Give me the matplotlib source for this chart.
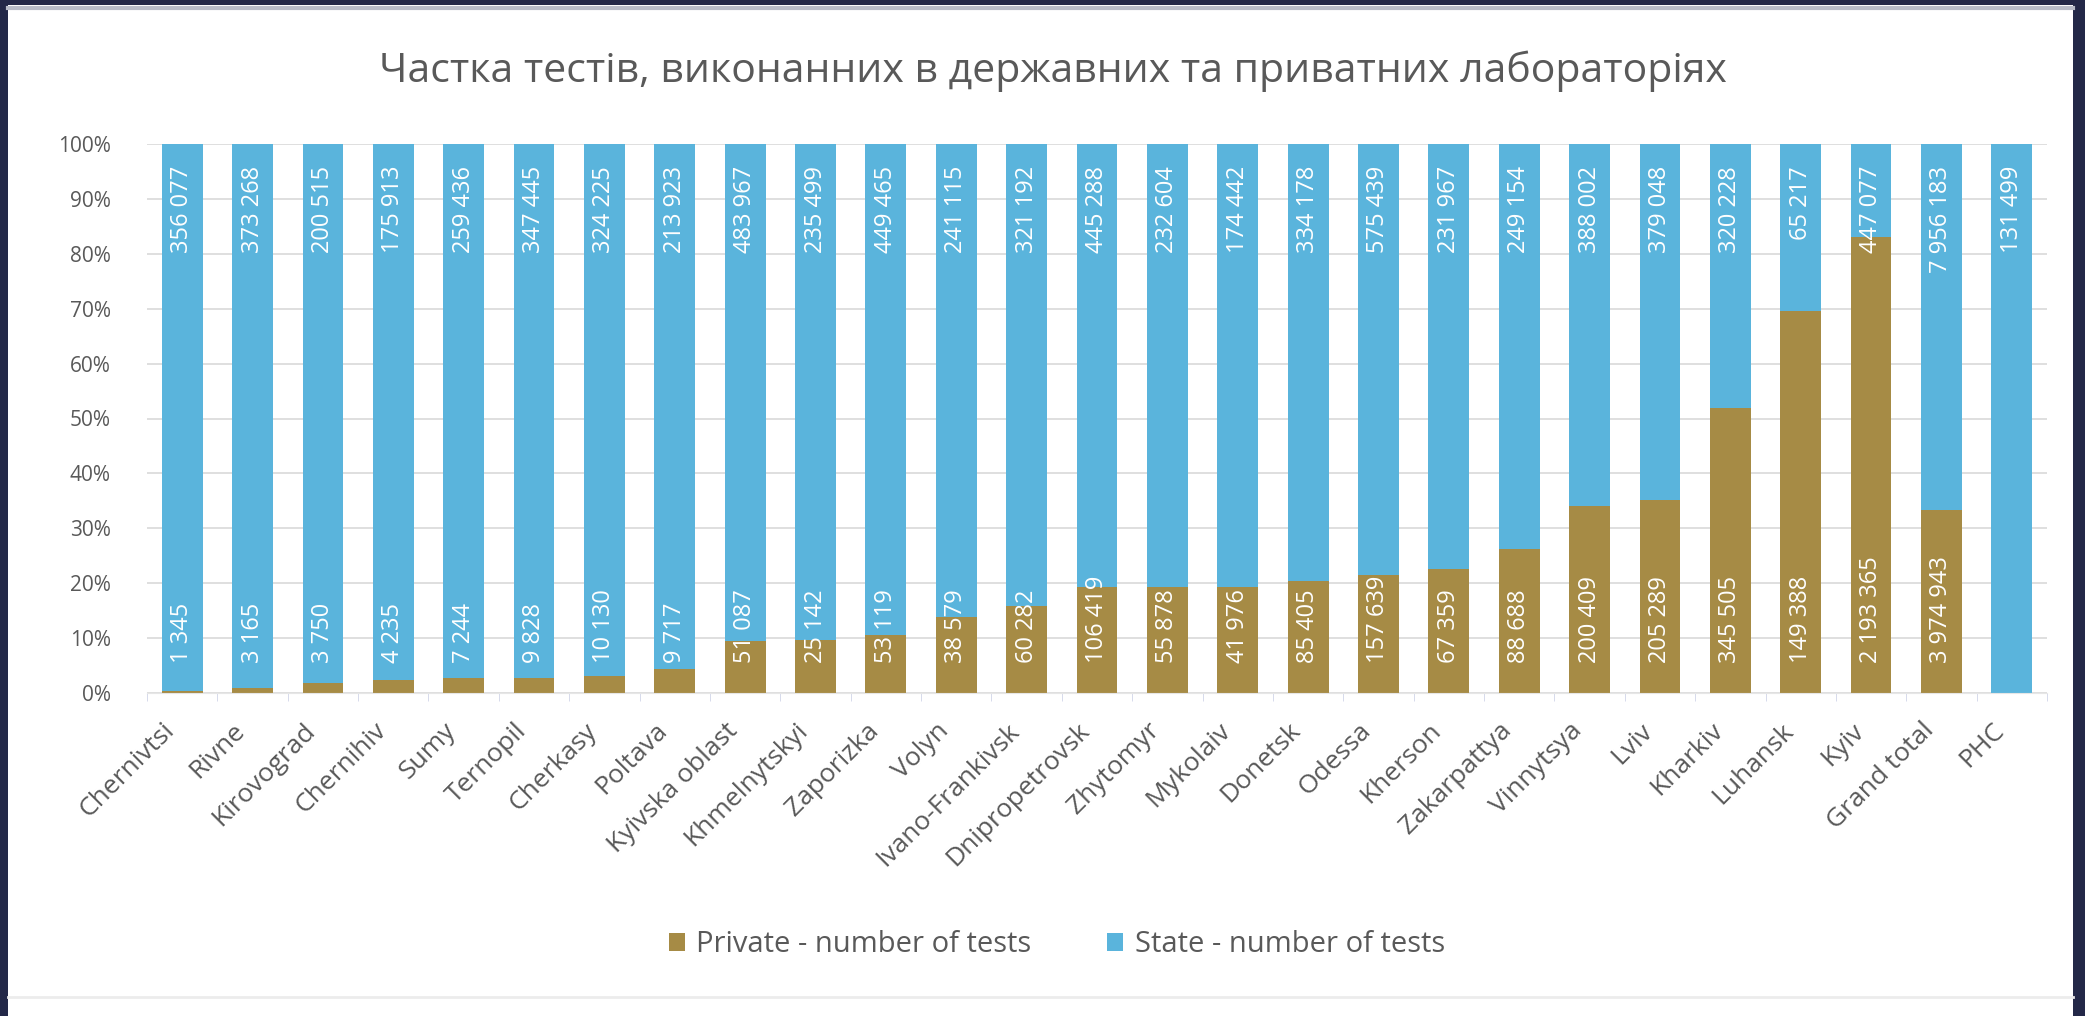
import matplotlib.pyplot as plt
import matplotlib.transforms as mtransforms
from matplotlib.patches import Rectangle
from matplotlib.lines import Line2D
import numpy as np

plt.rcParams['font.family'] = ['Open Sans', 'DejaVu Sans']

regions = ['Chernivtsi', 'Rivne', 'Kirovograd', 'Chernihiv', 'Sumy', 'Ternopil',
           'Cherkasy', 'Poltava', 'Kyivska oblast', 'Khmelnytskyi', 'Zaporizka',
           'Volyn', 'Ivano-Frankivsk', 'Dnipropetrovsk', 'Zhytomyr', 'Mykolaiv',
           'Donetsk', 'Odessa', 'Kherson', 'Zakarpattya', 'Vinnytsya', 'Lviv',
           'Kharkiv', 'Luhansk', 'Kyiv', 'Grand total', 'PHC']
private_tests = [1345, 3165, 3750, 4235, 7244, 9828, 10130, 9717, 51087, 25142,
                 53119, 38579, 60282, 106419, 55878, 41976, 85405, 157639, 67359,
                 88688, 200409, 205289, 345505, 149388, 2193365, 3974943, 0]
state_tests = [356077, 373268, 200515, 175913, 259436, 347445, 324225, 213923,
               483967, 235499, 449465, 241115, 321192, 445288, 232604, 174442,
               334178, 575439, 231967, 249154, 388002, 379048, 320228, 65217,
               447077, 7956183, 131499]

private = np.array(private_tests, dtype=float)
state = np.array(state_tests, dtype=float)
total = private + state
private_pct = private / total * 100
state_pct = state / total * 100

gold = '#a68b45'
blue = '#5ab4dc'
grey_text = '#595959'

fig = plt.figure(figsize=(20.85, 10.16), dpi=100, facecolor='#232848')
# white panel of the screenshot
fig.patches.append(Rectangle((8 / 2085, 0), 2065 / 2085, 1011 / 1016,
                             transform=fig.transFigure, facecolor='white',
                             edgecolor='none', zorder=-10))
fig.add_artist(Line2D([8 / 2085, 2073 / 2085], [1 - 8 / 1016] * 2,
                      transform=fig.transFigure, color='#b8bcc8', lw=3))
fig.add_artist(Line2D([8 / 2085, 2073 / 2085], [19 / 1016] * 2,
                      transform=fig.transFigure, color='#ececec', lw=2))

ax = fig.add_axes([147 / 2085, 1 - 693 / 1016, 1900 / 2085, 549 / 1016])
ax.set_facecolor('none')

x = np.arange(len(regions))
w = 0.58
ax.bar(x, private_pct, w, color=gold, label='Private - number of tests', zorder=2)
ax.bar(x, state_pct, w, bottom=private_pct, color=blue,
       label='State - number of tests', zorder=2)


def fmt(v):
    return f'{int(v):,}'.replace(',', ' ')


for i in x:
    ax.text(i, 96, fmt(state[i]), rotation=90, ha='center', va='top',
            color='white', fontsize=17, zorder=3)
    if private[i] > 0:
        ax.text(i, 5.5, fmt(private[i]), rotation=90, ha='center', va='bottom',
                color='white', fontsize=17, zorder=3)

ax.set_xlim(-0.5, len(regions) - 0.5)
ax.set_ylim(0, 100)
ax.set_yticks(np.arange(0, 101, 10))
ax.set_yticklabels([f'{v}%' for v in range(0, 101, 10)])
ax.yaxis.grid(True, color='#d9d9d9', lw=1.2, zorder=0)
ax.tick_params(axis='y', length=0, pad=26, labelsize=15, labelcolor=grey_text)

ax.set_xticks(x)
ax.set_xticklabels(regions, rotation=45, ha='right', va='top',
                   rotation_mode='anchor', fontsize=19, color=grey_text)
ax.tick_params(axis='x', length=0, pad=8)
# shift labels so their upper end sits under the bar centre
shift = mtransforms.ScaledTranslation(-20 / 100, -14 / 100, fig.dpi_scale_trans)
for lbl in ax.get_xticklabels():
    lbl.set_transform(lbl.get_transform() + shift)
ax.set_xticks(np.arange(-0.5, len(regions), 1), minor=True)
ax.tick_params(axis='x', which='minor', length=6, color='#d0d4e8')

for s in ['top', 'right', 'left']:
    ax.spines[s].set_visible(False)
ax.spines['bottom'].set_color('#e6e6e6')

fig.text(0.505, 1 - 71 / 1016, 'Частка тестів, виконанних в державних та приватних лабораторіях',
         ha='center', va='center', fontsize=29.5, color=grey_text)

fig.legend(loc='center', bbox_to_anchor=(1057 / 2085, 1 - 945 / 1016), ncol=2,
           frameon=False, fontsize=21, handlelength=0.55, handleheight=0.55,
           columnspacing=2.6, handletextpad=0.4, labelcolor=grey_text)

fig.savefig('out.png', dpi=100, facecolor=fig.get_facecolor())
